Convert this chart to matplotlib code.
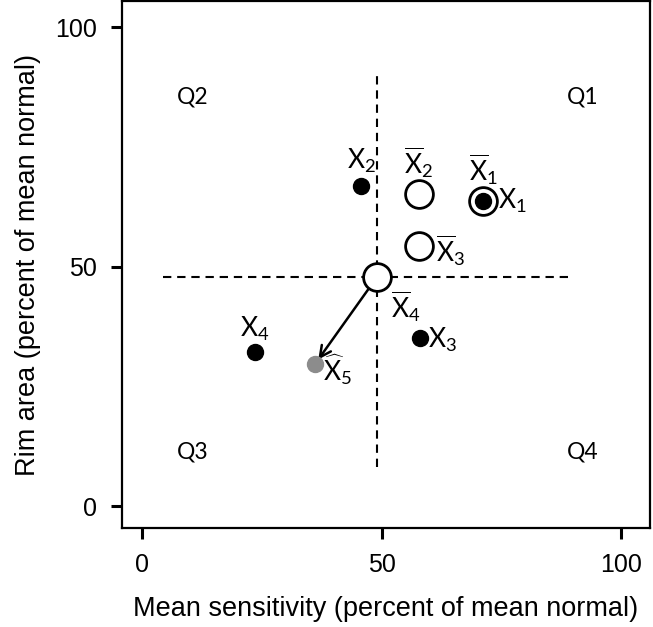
import matplotlib
matplotlib.use("Agg")
import matplotlib.pyplot as plt

plt.rcParams['font.family'] = ['Liberation Sans', 'DejaVu Sans']
plt.rcParams['mathtext.fontset'] = 'custom'
plt.rcParams['mathtext.rm'] = 'Lato'
plt.rcParams['mathtext.it'] = 'Lato'

# Data
obs_names = ['X1', 'X2', 'X3', 'X4']
obs_x = [71.2, 45.7, 58.0, 23.6]
obs_y = [63.7, 66.8, 35.1, 32.2]
obs_labels = [r'$\mathrm{X}_1$', r'$\mathrm{X}_2$', r'$\mathrm{X}_3$', r'$\mathrm{X}_4$']

mean_names = ['Xbar1', 'Xbar2', 'Xbar3', 'Xbar4']
mean_x = [71.2, 57.8, 57.8, 49.0]
mean_y = [63.7, 65.1, 54.3, 47.8]
mean_labels = [r'$\overline{\mathrm{X}}_1$', r'$\overline{\mathrm{X}}_2$',
               r'$\overline{\mathrm{X}}_3$', r'$\overline{\mathrm{X}}_4$']

pred_x = [36.1]
pred_y = [29.7]
pred_label = r'$\widehat{\mathrm{X}}_5$'

hline_x = [4.4, 89.2]
vline_y = [8.3, 89.8]

quad_labels = ['Q1', 'Q2', 'Q3', 'Q4']
quad_x = [92.0, 10.6, 10.6, 92.0]
quad_y = [85.5, 85.5, 11.4, 11.4]

xticks = [0, 50, 100]
yticks = [0, 50, 100]

fig = plt.figure(figsize=(6.53, 6.27), dpi=100)
ax = fig.add_axes([0.187, 0.158, 0.808, 0.840])
ax.set_xlim(-4.2, 106.0)
ax.set_ylim(-4.5, 105.4)

# dashed cross centred on Xbar4
cx, cy = mean_x[3], mean_y[3]
ax.plot(hline_x, [cy, cy], ls=(0, (4, 2.8)), color='black', lw=1.5, zorder=1)
ax.plot([cx, cx], vline_y, ls=(0, (4, 2.8)), color='black', lw=1.5, zorder=1)

# arrow from Xbar4 to predicted
ax.annotate('', xy=(pred_x[0], pred_y[0]), xytext=(cx, cy),
            arrowprops=dict(arrowstyle='->,head_length=0.8,head_width=0.4', lw=1.8,
                            color='black', shrinkA=10, shrinkB=4), zorder=2)

ax.plot(mean_x, mean_y, 'o', ms=20, mfc='white', mec='black', mew=2.0, ls='none', zorder=3)
ax.plot(obs_x, obs_y, 'o', ms=11.5, mfc='black', mec='black', ls='none', zorder=4)
ax.plot(pred_x, pred_y, 'o', ms=11.5, mfc='#8c8c8c', mec='#8c8c8c', ls='none', zorder=4)

fs = 19
# labels
obs_off = [(11, 0, 'left'), (0, 18, 'center'), (6, -1, 'left'), (0, 17, 'center')]
for x, y, lab, (dx, dy, ha) in zip(obs_x, obs_y, obs_labels, obs_off):
    ax.annotate(lab, xy=(x, y), xytext=(dx, dy), textcoords='offset points',
                ha=ha, va='center', fontsize=fs)
mean_off = [(0, 23, 'center'), (0, 23, 'center'), (12, -3, 'left'), (10, -21, 'left')]
for x, y, lab, (dx, dy, ha) in zip(mean_x, mean_y, mean_labels, mean_off):
    ax.annotate(lab, xy=(x, y), xytext=(dx, dy), textcoords='offset points',
                ha=ha, va='center', fontsize=fs)
ax.annotate(pred_label, xy=(pred_x[0], pred_y[0]), xytext=(6, -4), textcoords='offset points',
            ha='left', va='center', fontsize=fs)

for q, x, y in zip(quad_labels, quad_x, quad_y):
    ax.text(x, y, q, ha='center', va='center', fontsize=16.5, family=['Lato', 'DejaVu Sans'])

ax.set_xticks(xticks)
ax.set_yticks(yticks)
ax.tick_params(axis='both', direction='out', length=8, width=2.2, labelsize=18, pad=10)
for s in ax.spines.values():
    s.set_linewidth(1.6)

ax.set_xlabel('Mean sensitivity (percent of mean normal)', fontsize=19.5, labelpad=14)
ax.set_ylabel('Rim area (percent of mean normal)', fontsize=19.5, labelpad=10)

fig.savefig('out.png', dpi=100)
